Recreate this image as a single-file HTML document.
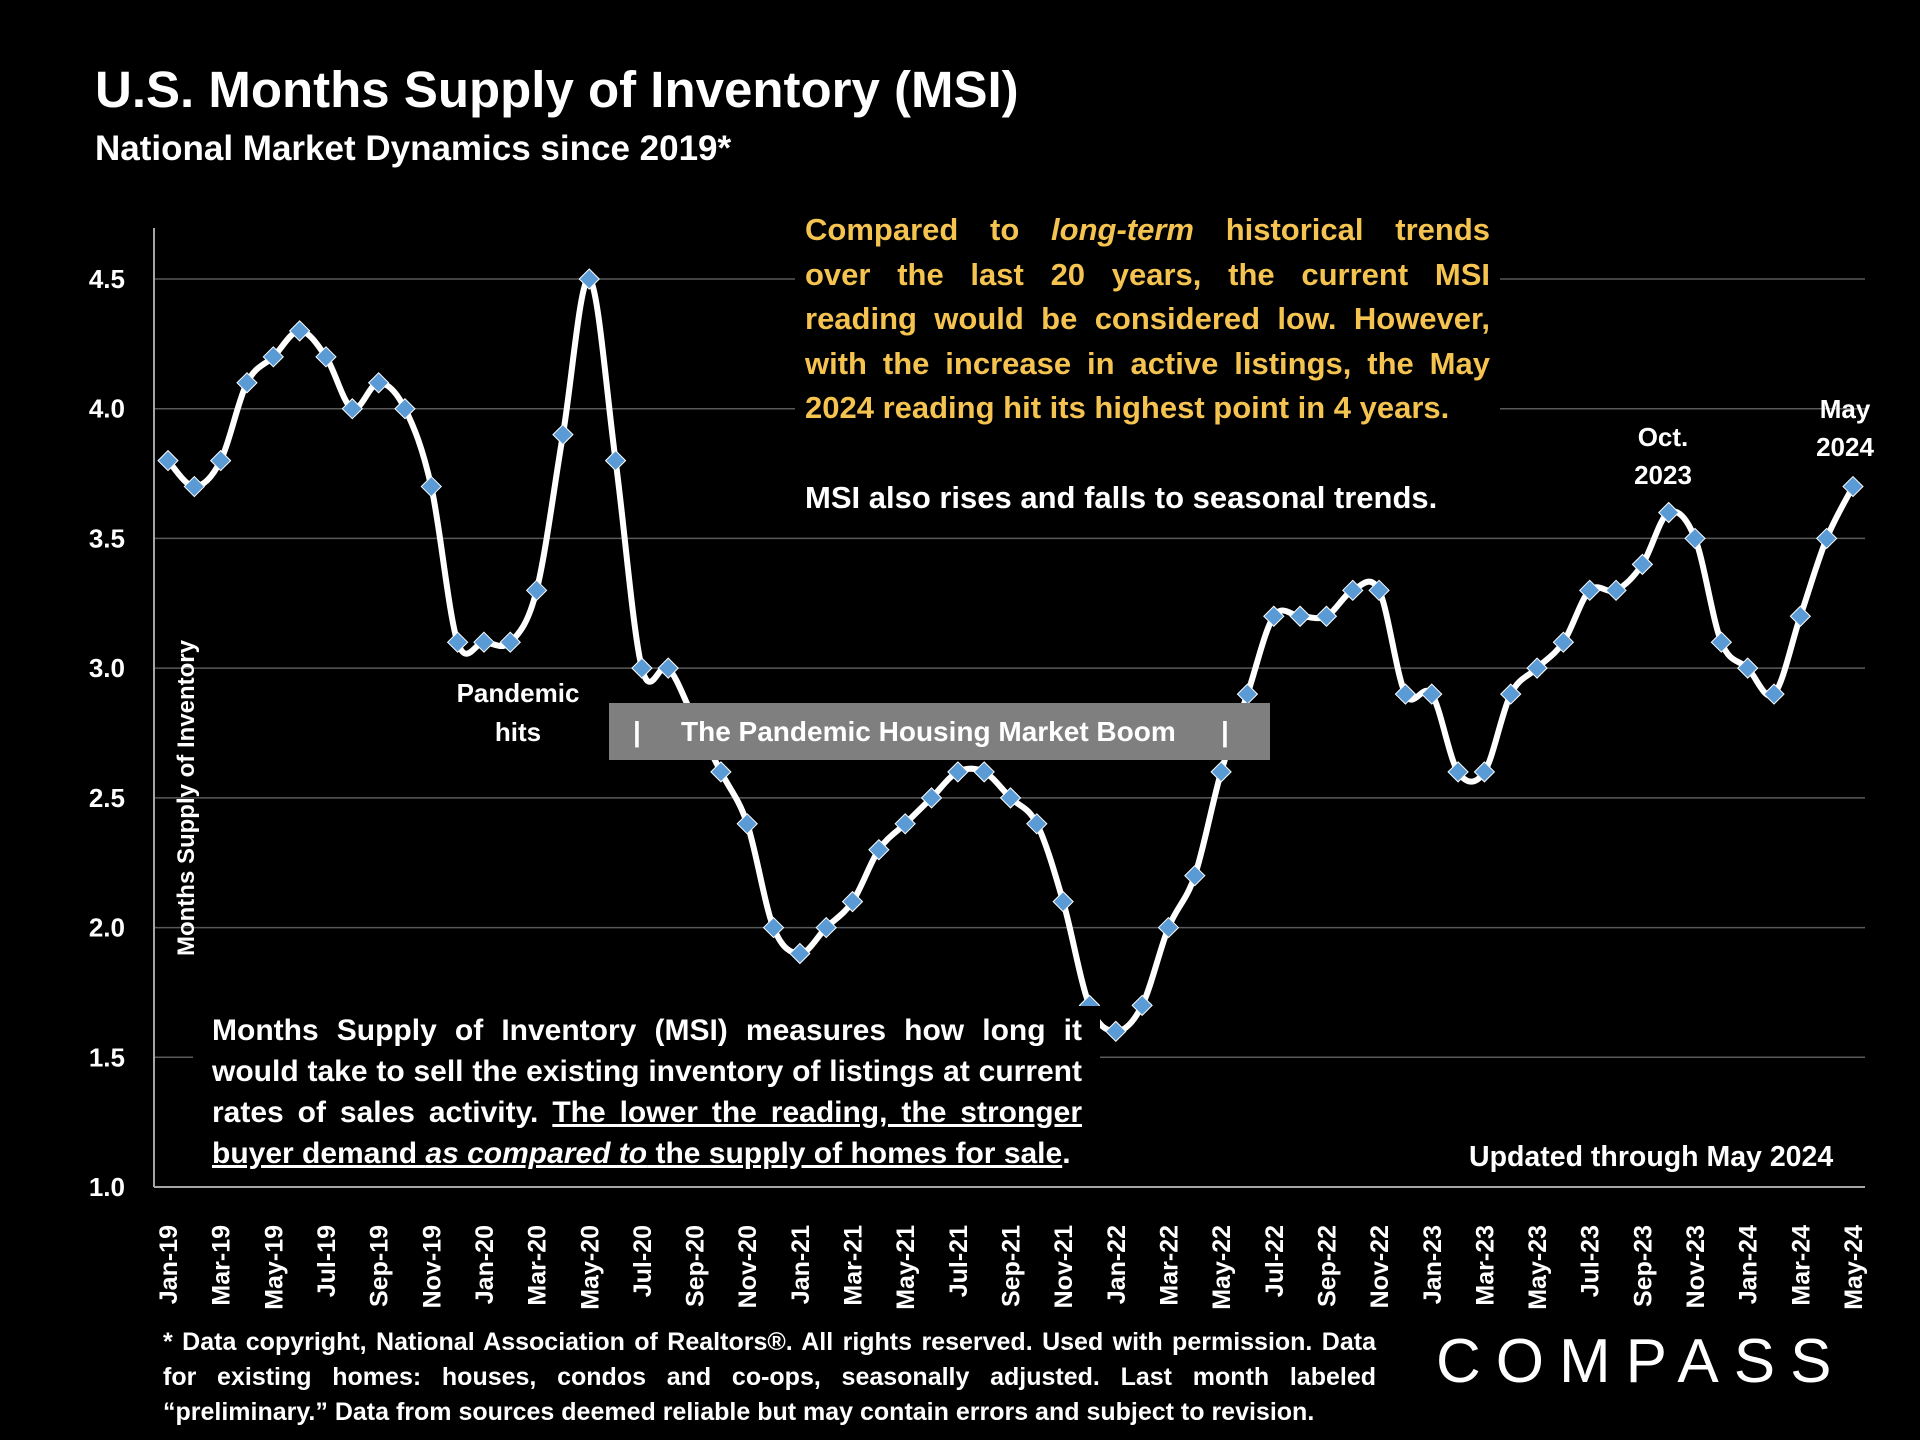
<!DOCTYPE html>
<html><head><meta charset="utf-8"><style>
body{margin:0;background:#000;width:1920px;height:1440px;overflow:hidden;font-family:"Liberation Sans",sans-serif;color:#fff}
svg{position:absolute;left:0;top:0}
.t{position:absolute;font-weight:bold;z-index:2}
.j{text-align:justify;text-align-last:justify;white-space:nowrap}
.l{text-align:left;white-space:nowrap}
</style></head><body>
<svg id="chart" width="1920" height="1440"></svg>
<div class="t" style="left:95px;top:60px;font-size:51px">U.S. Months Supply of Inventory (MSI)</div>
<div class="t" style="left:95px;top:129px;font-size:35px">National Market Dynamics since 2019*</div>
<div class="t" style="left:795px;top:208px;width:685px;padding:0 10px;font-size:31px;line-height:44.5px;color:#f5c34f;background:#000">
<div class="j">Compared to <i>long-term</i> historical trends</div>
<div class="j">over the last 20 years, the current MSI</div>
<div class="j">reading would be considered low. However,</div>
<div class="j">with the increase in active listings, the May</div>
<div class="l">2024 reading hit its highest point in 4 years.</div>
</div>
<div class="t" style="left:805px;top:480px;font-size:31px;background:#000;padding-right:8px">MSI also rises and falls to seasonal trends.</div>
<div class="t" style="left:440px;top:674px;width:156px;text-align:center;font-size:26px;line-height:39px">Pandemic<br>hits</div>
<div class="t" style="left:609px;top:703px;width:661px;height:57px;background:#7f7f7f;font-size:28px;line-height:57px">
<span style="position:absolute;left:24px">|</span><span style="position:absolute;left:72px">The Pandemic Housing Market Boom</span><span style="position:absolute;left:612px">|</span></div>
<div class="t" style="left:1603px;top:418px;width:120px;text-align:center;font-size:26px;line-height:38px">Oct.<br>2023</div>
<div class="t" style="left:1785px;top:390px;width:120px;text-align:center;font-size:26px;line-height:38px">May<br>2024</div>
<div class="t" style="left:193px;top:1006px;width:870px;padding:4px 18px 10px 19px;background:#000;font-size:30px;line-height:41px">
<div class="j">Months Supply of Inventory (MSI) measures how long it</div>
<div class="j">would take to sell the existing inventory of listings at current</div>
<div class="j">rates of sales activity. <u>The lower the reading, the stronger</u></div>
<div class="l"><u>buyer demand <i>as compared to</i> the supply of homes for sale</u>.</div>
</div>
<div class="t" style="left:1469px;top:1141px;font-size:28.5px">Updated through May 2024</div>
<div class="t" style="left:163px;top:1325px;width:1213px;font-size:25px;line-height:35px">
<div class="j">* Data copyright, National Association of Realtors®. All rights reserved. Used with permission. Data</div>
<div class="j">for existing homes: houses, condos and co-ops, seasonally adjusted. Last month labeled</div>
<div class="l">“preliminary.” Data from sources deemed reliable but may contain errors and subject to revision.</div>
</div>
<div style="position:absolute;left:1436px;top:1326px;font-size:62px;letter-spacing:15px;font-weight:normal">COMPASS</div>
<script>
const months=["Jan-19","Feb-19","Mar-19","Apr-19","May-19","Jun-19","Jul-19","Aug-19","Sep-19","Oct-19","Nov-19","Dec-19","Jan-20","Feb-20","Mar-20","Apr-20","May-20","Jun-20","Jul-20","Aug-20","Sep-20","Oct-20","Nov-20","Dec-20","Jan-21","Feb-21","Mar-21","Apr-21","May-21","Jun-21","Jul-21","Aug-21","Sep-21","Oct-21","Nov-21","Dec-21","Jan-22","Feb-22","Mar-22","Apr-22","May-22","Jun-22","Jul-22","Aug-22","Sep-22","Oct-22","Nov-22","Dec-22","Jan-23","Feb-23","Mar-23","Apr-23","May-23","Jun-23","Jul-23","Aug-23","Sep-23","Oct-23","Nov-23","Dec-23","Jan-24","Feb-24","Mar-24","Apr-24","May-24"];
const msi=[3.8,3.7,3.8,4.1,4.2,4.3,4.2,4.0,4.1,4.0,3.7,3.1,3.1,3.1,3.3,3.9,4.5,3.8,3.0,3.0,2.8,2.6,2.4,2.0,1.9,2.0,2.1,2.3,2.4,2.5,2.6,2.6,2.5,2.4,2.1,1.7,1.6,1.7,2.0,2.2,2.6,2.9,3.2,3.2,3.2,3.3,3.3,2.9,2.9,2.6,2.6,2.9,3.0,3.1,3.3,3.3,3.4,3.6,3.5,3.1,3.0,2.9,3.2,3.5,3.7];
const yTicks=[1.0,1.5,2.0,2.5,3.0,3.5,4.0,4.5];
const svg=document.getElementById('chart');
const NS='http://www.w3.org/2000/svg';
const X0=168,X1=1853,Y0=1187,Y1=279,vMin=1.0,vMax=4.5;
const xS=i=>X0+(X1-X0)*i/(months.length-1);
const yS=v=>Y0-(v-vMin)*(Y0-Y1)/(vMax-vMin);
function mk(tag,attrs){const e=document.createElementNS(NS,tag);for(const k in attrs)e.setAttribute(k,attrs[k]);svg.appendChild(e);return e;}
yTicks.forEach(v=>{
  if(v>vMin){const g=mk('line',{x1:154,x2:1865,y1:yS(v),y2:yS(v),stroke:'#595959','stroke-width':1.5});
  
  }
  const t=mk('text',{x:125,y:yS(v)+9,'text-anchor':'end','font-size':26,'font-weight':'bold',fill:'#fff','font-family':'Liberation Sans, sans-serif'});
  t.textContent=v.toFixed(1);
  
  
});
const ax=mk('line',{x1:154,x2:154,y1:228,y2:Y0,stroke:'#a6a6a6','stroke-width':2});


const axx=mk('line',{x1:154,x2:1865,y1:Y0,y2:Y0,stroke:'#a6a6a6','stroke-width':2});


const yt=mk('text',{x:0,y:0,transform:'translate(194,798) rotate(-90)','text-anchor':'middle','font-size':24,'font-weight':'bold',fill:'#fff','font-family':'Liberation Sans, sans-serif'});
yt.textContent='Months Supply of Inventory';


months.forEach((m,i)=>{if(i%2)return;
  const t=mk('text',{x:0,y:0,transform:`translate(${xS(i)+9},1225) rotate(-90)`,'text-anchor':'end','font-size':25,'font-weight':'bold',fill:'#fff','font-family':'Liberation Sans, sans-serif'});
  t.textContent=m;
  
  
});
const P=msi.map((v,i)=>[xS(i),yS(v)]);
let d=`M${P[0][0]},${P[0][1]}`;
for(let i=0;i<P.length-1;i++){const p0=P[Math.max(0,i-1)],p1=P[i],p2=P[i+1],p3=P[Math.min(P.length-1,i+2)];const k=6;
 d+=` C${p1[0]+(p2[0]-p0[0])/k},${p1[1]+(p2[1]-p0[1])/k} ${p2[0]-(p3[0]-p1[0])/k},${p2[1]-(p3[1]-p1[1])/k} ${p2[0]},${p2[1]}`;}
const ln=mk('path',{d:d,fill:'none',stroke:'#fff','stroke-width':6});


P.forEach(([x,y],i)=>{
  const m=mk('polygon',{points:`${x},${y-10} ${x+10},${y} ${x},${y+10} ${x-10},${y}`,fill:'#5b9bd5',stroke:'#fff','stroke-width':1});
  
  
});
</script>
</body></html>
